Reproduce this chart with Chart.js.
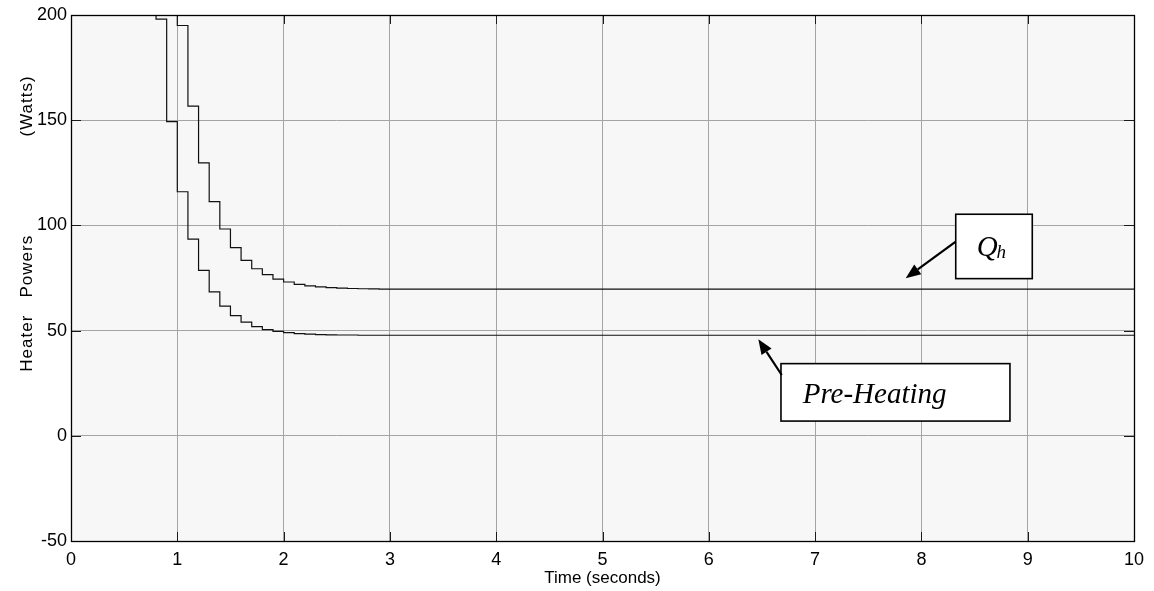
<!DOCTYPE html>
<html>
<head>
<meta charset="utf-8">
<title>Heater Powers</title>
<script src="https://cdn.jsdelivr.net/npm/chart.js@4.4.1/dist/chart.umd.min.js"></script>
<style>
  html, body { margin: 0; padding: 0; background: #ffffff; }
  #wrap { width: 1154px; height: 591px; }
</style>
</head>
<body>
<div id="wrap"><canvas id="c" width="1154" height="591"></canvas></div>
<script>
// Sample instants of the discrete controller (seconds); the last entry holds the final value to the end.
const sampleTimes = [0.7, 0.8, 0.9, 1.0, 1.1, 1.2, 1.3, 1.4, 1.5, 1.6, 1.7, 1.8, 1.9, 2.0,
                     2.1, 2.2, 2.3, 2.4, 2.5, 2.6, 2.7, 2.8, 2.9, 3.0, 3.1, 3.2, 10];
// Heater power Qh (W), zero-order hold
const qhWatts = [240, 240, 240, 195, 156.7, 129.7, 111.3, 98.3, 89.4, 83.4, 79.4, 76.6, 74.5, 73.1,
                 72.0, 71.3, 70.8, 70.4, 70.2, 70.0, 69.9, 69.8, 69.7, 69.7, 69.7, 69.7, 69.7];
// Pre-heating power (W), zero-order hold
const preHeatWatts = [240, 198, 149.3, 116, 93.5, 78.6, 68.4, 61.6, 57.1, 54.0, 51.9, 50.5, 49.6, 49.0,
                      48.6, 48.3, 48.1, 48.0, 47.9, 47.9, 47.8, 47.8, 47.8, 47.8, 47.8, 47.8, 47.8];

const xTicks = [0, 1, 2, 3, 4, 5, 6, 7, 8, 9, 10];
const yTicks = [-50, 0, 50, 100, 150, 200];

// Callout boxes and their arrows, in axis units
const callouts = [
  { label: 'Q', sub: 'h', box: [8.323, 105.3, 9.043, 74.7], text: [8.52, 85.6],
    arrowFrom: [8.323, 92.3], arrowTo: [7.852, 74.9] },
  { label: 'Pre-Heating', sub: '', box: [6.679, 34.3, 8.833, 7.0], text: [6.883, 15.5],
    arrowFrom: [6.686, 28.9], arrowTo: [6.466, 45.9] }
];

const tickFont = "'Liberation Sans', Arial, sans-serif";

function series(values) {
  return sampleTimes.map((t, i) => ({ x: t, y: values[i] }));
}

const decorations = {
  id: 'decorations',
  beforeDraw(chart) {
    const { ctx, chartArea: a } = chart;
    ctx.save();
    ctx.fillStyle = '#f7f7f7';
    ctx.fillRect(a.left, a.top, a.right - a.left, a.bottom - a.top);
    ctx.restore();
  },
  afterDatasetsDraw(chart) {
    const { ctx } = chart;
    const xs = chart.scales.x, ys = chart.scales.y;
    ctx.save();
    callouts.forEach(c => {
      const x0 = xs.getPixelForValue(c.box[0]), y0 = ys.getPixelForValue(c.box[1]);
      const x1 = xs.getPixelForValue(c.box[2]), y1 = ys.getPixelForValue(c.box[3]);
      ctx.fillStyle = '#ffffff';
      ctx.fillRect(x0, y0, x1 - x0, y1 - y0);
      ctx.strokeStyle = '#000000';
      ctx.lineWidth = 1.6;
      ctx.strokeRect(x0, y0, x1 - x0, y1 - y0);

      // arrow
      const ax = xs.getPixelForValue(c.arrowFrom[0]), ay = ys.getPixelForValue(c.arrowFrom[1]);
      const bx = xs.getPixelForValue(c.arrowTo[0]), by = ys.getPixelForValue(c.arrowTo[1]);
      const ang = Math.atan2(by - ay, bx - ax);
      const len = 15, half = 6;
      const hx = bx - len * Math.cos(ang), hy = by - len * Math.sin(ang);
      ctx.lineWidth = 2.2;
      ctx.beginPath();
      ctx.moveTo(ax, ay);
      ctx.lineTo(hx, hy);
      ctx.stroke();
      ctx.fillStyle = '#000000';
      ctx.beginPath();
      ctx.moveTo(bx, by);
      ctx.lineTo(hx + half * Math.sin(ang), hy - half * Math.cos(ang));
      ctx.lineTo(hx - half * Math.sin(ang), hy + half * Math.cos(ang));
      ctx.closePath();
      ctx.fill();

      // label
      const tx = xs.getPixelForValue(c.text[0]), ty = ys.getPixelForValue(c.text[1]);
      ctx.textAlign = 'left';
      ctx.textBaseline = 'alphabetic';
      ctx.font = "italic 29px 'Liberation Serif', 'DejaVu Serif', serif";
      ctx.fillText(c.label, tx, ty);
      if (c.sub) {
        const w = ctx.measureText(c.label).width;
        ctx.font = "italic 19px 'Liberation Serif', 'DejaVu Serif', serif";
        ctx.fillText(c.sub, tx + w - 1, ty + 2);
      }
    });
    ctx.restore();
  },
  afterDraw(chart) {
    const { ctx, chartArea: a } = chart;
    const xs = chart.scales.x, ys = chart.scales.y;
    ctx.save();
    // inward tick marks on all four sides
    ctx.strokeStyle = '#1a1a1a';
    ctx.lineWidth = 1;
    ctx.beginPath();
    xTicks.forEach(v => {
      const px = Math.round(xs.getPixelForValue(v)) + 0.5;
      ctx.moveTo(px, a.bottom); ctx.lineTo(px, a.bottom - 9);
      ctx.moveTo(px, a.top); ctx.lineTo(px, a.top + 9);
    });
    yTicks.forEach(v => {
      const py = Math.round(ys.getPixelForValue(v)) + 0.5;
      ctx.moveTo(a.left, py); ctx.lineTo(a.left + 10, py);
      ctx.moveTo(a.right, py); ctx.lineTo(a.right - 10, py);
    });
    ctx.stroke();
    // axes box
    ctx.strokeStyle = '#000000';
    ctx.lineWidth = 1.3;
    ctx.strokeRect(Math.round(a.left) + 0.5, Math.round(a.top) + 0.5,
                   Math.round(a.right - a.left), Math.round(a.bottom - a.top));
    // y-axis title
    ctx.fillStyle = '#000000';
    ctx.font = "17px 'Liberation Sans', Arial, sans-serif";
    ctx.textAlign = 'center';
    ctx.textBaseline = 'middle';
    ctx.translate(27, 0);
    ctx.rotate(-Math.PI / 2);
    if ('letterSpacing' in ctx) ctx.letterSpacing = '1px';
    ctx.fillText('Heater   Powers', -ys.getPixelForValue(63), 0);
    ctx.fillText('(Watts)', -ys.getPixelForValue(156.8), 0);
    ctx.restore();
  }
};

new Chart(document.getElementById('c'), {
  type: 'line',
  data: {
    datasets: [
      { label: 'Qh', data: series(qhWatts), stepped: true, borderColor: '#111111',
        borderWidth: 1.2, pointRadius: 0, fill: false },
      { label: 'Pre-Heating', data: series(preHeatWatts), stepped: true, borderColor: '#111111',
        borderWidth: 1.2, pointRadius: 0, fill: false }
    ]
  },
  options: {
    responsive: false,
    animation: false,
    layout: { padding: { left: 0, top: 15, right: 20, bottom: 0 } },
    plugins: { legend: { display: false }, tooltip: { enabled: false } },
    scales: {
      x: {
        type: 'linear', min: 0, max: 10,
        afterBuildTicks(scale) { scale.ticks = xTicks.map(v => ({ value: v })); },
        afterFit(scale) { scale.height = 50; },
        grid: { color: '#a4a4a4', lineWidth: 1, drawTicks: false },
        border: { display: false },
        ticks: { color: '#000000', padding: 8, maxRotation: 0,
                 font: { family: tickFont, size: 18 } },
        title: { display: true, text: 'Time (seconds)', color: '#000000',
                 padding: { top: 0, bottom: 2 }, font: { family: tickFont, size: 17 } }
      },
      y: {
        type: 'linear', min: -50, max: 200,
        afterBuildTicks(scale) { scale.ticks = yTicks.map(v => ({ value: v })); },
        afterFit(scale) { scale.width = 71; },
        grid: { color: '#a4a4a4', lineWidth: 1, drawTicks: false },
        border: { display: false },
        ticks: { color: '#000000', padding: 4, font: { family: tickFont, size: 18 } }
      }
    }
  },
  plugins: [decorations]
});
</script>
</body>
</html>
